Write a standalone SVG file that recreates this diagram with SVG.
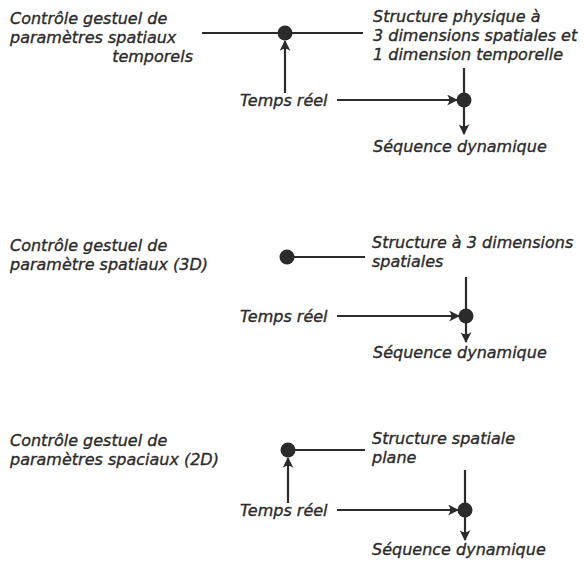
<svg xmlns="http://www.w3.org/2000/svg" width="584" height="561" viewBox="0 0 584 561">
<style>
text{font-family:"DejaVu Sans","Liberation Sans",sans-serif;font-style:italic;font-size:16px;fill:#2b2b2b;stroke:#2b2b2b;stroke-width:0.35}
.ln{stroke:#2b2b2b;stroke-width:2.2;fill:none}
.ar{stroke:#2b2b2b;stroke-width:2.2;fill:none;marker-end:url(#ah)}
.dot{fill:#2b2b2b}
</style>
<defs>
<marker id="ah" markerUnits="userSpaceOnUse" markerWidth="11" markerHeight="11" refX="10" refY="5.5" orient="auto" viewBox="0 0 11 11">
<path d="M11,5.5 L0,0 Q4.5,5.5 0,11 Z" fill="#2b2b2b"/>
</marker>
</defs>
<rect width="584" height="561" fill="#ffffff"/>

<g id="connectors">
<!-- diagram 1 -->
<line class="ln" x1="202" y1="33" x2="363" y2="33"/>
<line class="ar" x1="285" y1="93" x2="285" y2="41"/>
<line class="ar" x1="337" y1="100" x2="457" y2="100"/>
<line class="ln" x1="464" y1="68" x2="464" y2="100"/>
<line class="ar" x1="464" y1="107" x2="464" y2="134"/>
<!-- diagram 2 -->
<line class="ln" x1="287" y1="257" x2="365" y2="257"/>
<line class="ln" x1="466" y1="277" x2="466" y2="316"/>
<line class="ar" x1="337" y1="316" x2="459" y2="316"/>
<line class="ar" x1="466" y1="323" x2="466" y2="342"/>
<!-- diagram 3 -->
<line class="ln" x1="288" y1="450" x2="365" y2="450"/>
<line class="ar" x1="288" y1="503" x2="288" y2="458"/>
<line class="ar" x1="337" y1="510" x2="458" y2="510"/>
<line class="ln" x1="465" y1="470" x2="465" y2="510"/>
<line class="ar" x1="465" y1="517" x2="465" y2="540"/>
</g>

<!-- Diagram 1 -->
<g id="d1-control">
<text x="10" y="24">Contrôle gestuel de</text>
<text x="10" y="43">paramètres spatiaux</text>
<text x="193" y="62" text-anchor="end">temporels</text>
</g>
<g id="d1-junction1"><circle class="dot" cx="285" cy="33" r="7.5"/></g>
<g id="d1-structure">
<text x="373" y="22">Structure physique à</text>
<text x="373" y="41">3 dimensions spatiales et</text>
<text x="373" y="60">1 dimension temporelle</text>
</g>
<g id="d1-temps"><text x="240" y="106">Temps réel</text></g>
<g id="d1-junction2"><circle class="dot" cx="464" cy="100" r="7.5"/></g>
<g id="d1-sequence"><text x="373" y="152">Séquence dynamique</text></g>

<!-- Diagram 2 -->
<g id="d2-control">
<text x="10" y="251">Contrôle gestuel de</text>
<text x="10" y="270">paramètre spatiaux (3D)</text>
</g>
<g id="d2-junction1"><circle class="dot" cx="287" cy="257" r="7.5"/></g>
<g id="d2-structure">
<text x="372" y="248">Structure à 3 dimensions</text>
<text x="372" y="267">spatiales</text>
</g>
<g id="d2-temps"><text x="240" y="322">Temps réel</text></g>
<g id="d2-junction2"><circle class="dot" cx="466" cy="316" r="7.5"/></g>
<g id="d2-sequence"><text x="373" y="358">Séquence dynamique</text></g>

<!-- Diagram 3 -->
<g id="d3-control">
<text x="10" y="446">Contrôle gestuel de</text>
<text x="10" y="465">paramètres spaciaux (2D)</text>
</g>
<g id="d3-junction1"><circle class="dot" cx="288" cy="450" r="7.5"/></g>
<g id="d3-structure">
<text x="372" y="444">Structure spatiale</text>
<text x="372" y="463">plane</text>
</g>
<g id="d3-temps"><text x="240" y="516">Temps réel</text></g>
<g id="d3-junction2"><circle class="dot" cx="465" cy="510" r="7.5"/></g>
<g id="d3-sequence"><text x="372" y="555">Séquence dynamique</text></g>
</svg>
